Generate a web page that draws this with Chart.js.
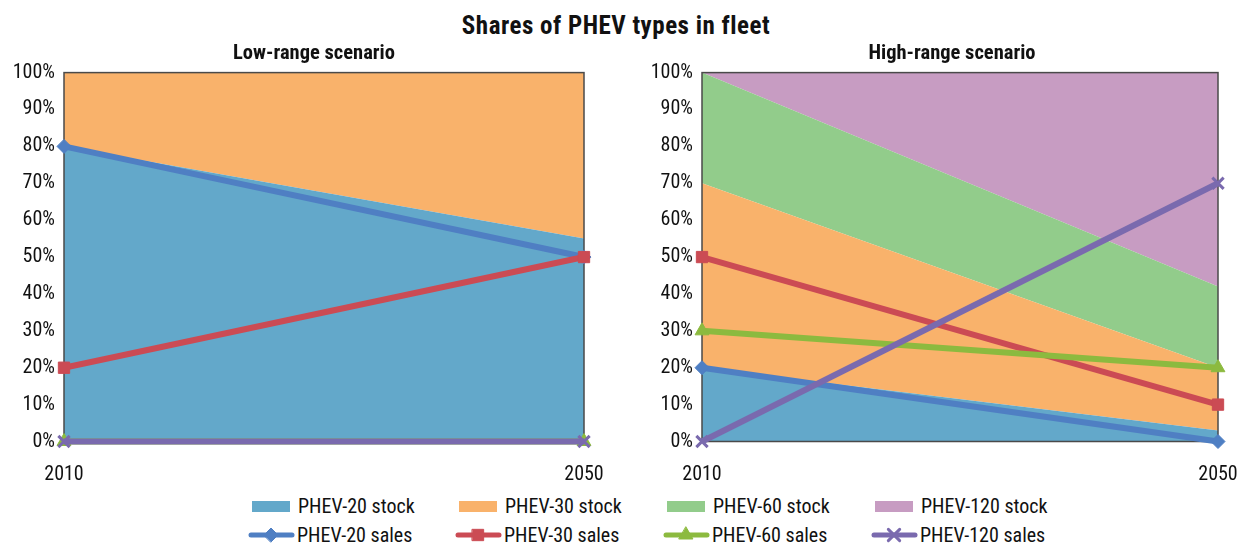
<!DOCTYPE html>
<html>
<head>
<meta charset="utf-8">
<script src="https://cdn.jsdelivr.net/npm/chart.js@4.4.1/dist/chart.umd.min.js"></script>
<style>
  body { margin: 0; background: #fff; width: 1240px; height: 544px; overflow: hidden; position: relative; font-family: "Roboto Condensed", "DejaVu Sans Condensed", sans-serif; color: #111; }
  #title { position: absolute; left: 0; width: 1232px; top: 11px; text-align: center; font-weight: bold; font-size: 25px; letter-spacing: 0.5px; line-height: 30px; }
  .sub { position: absolute; top: 40px; width: 600px; text-align: center; font-weight: bold; font-size: 20.5px; line-height: 24px; }
  .panel { position: absolute; top: 40px; width: 620px; height: 449px; }
  #left { left: 0; }
  #right { left: 620px; }
  .leg { position: absolute; font-size: 20px; line-height: 24px; white-space: nowrap; }
  .leg svg { position: absolute; left: 0; top: 0; }
  .leg span { position: absolute; left: 48px; top: 0; }
</style>
</head>
<body>
<div id="title">Shares of PHEV types in fleet</div>
<div class="panel" id="left"><canvas id="lowChart"></canvas></div>
<div class="panel" id="right"><canvas id="highChart"></canvas></div>
<div class="sub" style="left:14px">Low-range scenario</div>
<div class="sub" style="left:652px">High-range scenario</div>
<div id="legend"></div>
<script>
// Data
const years = ['2010', '2050'];
const typeNames = ['PHEV-20', 'PHEV-30', 'PHEV-60', 'PHEV-120'];

// low-range scenario (%)
const lowStock20 = [80, 55];
const lowStock30 = [20, 45];
const lowStock60 = [0, 0];
const lowStock120 = [0, 0];
const lowSales20 = [80, 50];
const lowSales30 = [20, 50];
const lowSales60 = [0, 0];
const lowSales120 = [0, 0];

// high-range scenario (%)
const highStock20 = [20, 3];
const highStock30 = [50, 17];
const highStock60 = [30, 22];
const highStock120 = [0, 58];
const highSales20 = [20, 0];
const highSales30 = [50, 10];
const highSales60 = [30, 20];
const highSales120 = [0, 70];

const yTicks = [0, 10, 20, 30, 40, 50, 60, 70, 80, 90, 100];

// styles
const areaColors = ['#63a8ca', '#f9b26b', '#92cc8b', '#c79cc2'];
const lineColors = ['#4f7fc3', '#cb4b54', '#8cba3f', '#7a6aae'];
const markers = ['rectRot', 'rect', 'triangle', 'crossRot'];
const markerRadius = [7, 8, 8, 8];
const FONT = '"Roboto Condensed", "DejaVu Sans Condensed", sans-serif';

// plot frame drawn after the areas and before the lines
const framePlugin = {
    id: 'frame',
    beforeDatasetDraw(chart, args) {
        if (args.meta.order !== 3) return;
        const a = chart.chartArea;
        const ctx = chart.ctx;
        ctx.save();
        ctx.strokeStyle = '#4a4a4a';
        ctx.lineWidth = 1.5;
        ctx.strokeRect(a.left, a.top, a.right - a.left, a.bottom - a.top);
        ctx.restore();
    }
};

function makeChart(id, stocks, sales, yWidth, padRight) {
    const datasets = [];
    sales.forEach((vals, i) => {
        datasets.push({
            label: typeNames[i] + ' sales',
            data: vals,
            stack: 'sales' + i,
            order: 3 - i,
            borderColor: lineColors[i],
            backgroundColor: lineColors[i],
            borderWidth: 6,
            pointStyle: markers[i],
            pointRadius: markerRadius[i],
            pointBorderWidth: i === 3 ? 3 : 1,
            pointBorderColor: lineColors[i],
            pointBackgroundColor: lineColors[i],
            fill: false,
            clip: false,
            tension: 0
        });
    });
    stocks.forEach((vals, i) => {
        datasets.push({
            label: typeNames[i] + ' stock',
            data: vals,
            stack: 'stock',
            order: 10 + i,
            borderWidth: 0,
            borderColor: areaColors[i],
            backgroundColor: areaColors[i],
            pointRadius: 0,
            fill: i === 0 ? 'origin' : '-1',
            tension: 0
        });
    });

    return new Chart(document.getElementById(id), {
        type: 'line',
        data: { labels: years, datasets: datasets },
        plugins: [framePlugin],
        options: {
            responsive: true,
            maintainAspectRatio: false,
            animation: false,
            layout: { padding: { left: 0, right: padRight, top: 32.6, bottom: 0 } },
            plugins: {
                legend: { display: false },
                tooltip: { enabled: false },
                title: { display: false }
            },
            scales: {
                x: {
                    offset: false,
                    grid: { display: false, drawTicks: true, tickLength: 19.5 },
                    border: { display: false },
                    ticks: { color: '#111', font: { family: FONT, size: 20 }, padding: 2, maxRotation: 0 }
                },
                y: {
                    stacked: true,
                    min: 0,
                    max: 100,
                    grid: { display: false, drawTicks: false },
                    border: { display: false },
                    afterBuildTicks: (scale) => { scale.ticks = yTicks.map(v => ({ value: v })); },
                    afterFit: (scale) => { scale.width = yWidth; },
                    ticks: {
                        color: '#111',
                        font: { family: FONT, size: 20 },
                        padding: 9,
                        callback: (v) => v + '%'
                    }
                }
            }
        }
    });
}

// plot areas: left 64..584, right 702..1218
makeChart('lowChart',
    [lowStock20, lowStock30, lowStock60, lowStock120],
    [lowSales20, lowSales30, lowSales60, lowSales120], 64, 36);
makeChart('highChart',
    [highStock20, highStock30, highStock60, highStock120],
    [highSales20, highSales30, highSales60, highSales120], 82, 22);

// legend (two rows: stocks, then sales)
const legendX = [250, 457, 665, 873];
const legend = document.getElementById('legend');
typeNames.forEach((name, i) => {
    const s = document.createElement('div');
    s.className = 'leg';
    s.style.left = legendX[i] + 'px';
    s.style.top = '494px';
    s.innerHTML = '<svg width="44" height="24"><rect x="2" y="7" width="38" height="11" fill="' + areaColors[i] + '"/></svg><span>' + name + ' stock</span>';
    legend.appendChild(s);

    const l = document.createElement('div');
    l.className = 'leg';
    l.style.left = (legendX[i] - 2) + 'px';
    l.style.top = '523px';
    l.innerHTML = '<span style="left:49px">' + name + ' sales</span>';
    const cv = document.createElement('canvas');
    cv.width = 48; cv.height = 24;
    cv.style.position = 'absolute'; cv.style.left = '0'; cv.style.top = '0';
    l.appendChild(cv);
    const ctx = cv.getContext('2d');
    ctx.strokeStyle = lineColors[i];
    ctx.lineWidth = 5;
    ctx.lineCap = 'round';
    ctx.beginPath(); ctx.moveTo(3, 12); ctx.lineTo(44, 12); ctx.stroke();
    ctx.fillStyle = lineColors[i];
    ctx.strokeStyle = lineColors[i];
    ctx.lineWidth = i === 3 ? 3 : 1;
    Chart.helpers.drawPoint(ctx, { pointStyle: markers[i], radius: markerRadius[i], rotation: 0, borderWidth: ctx.lineWidth }, 23, 12);
    legend.appendChild(l);
});
</script>
</body>
</html>
